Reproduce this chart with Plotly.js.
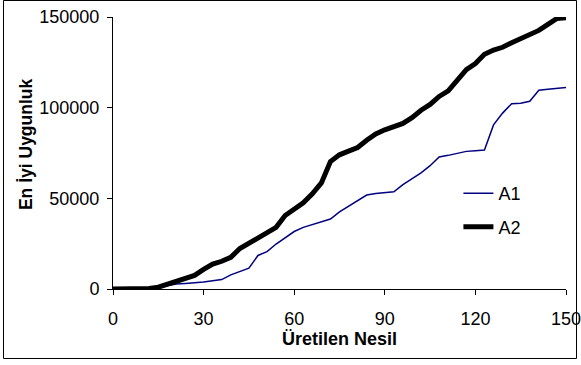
<!DOCTYPE html>
<html>
<head>
<meta charset="utf-8">
<script src="https://cdn.plot.ly/plotly-3.0.1.min.js"></script>
<style>html,body{margin:0;padding:0;background:#fff;}#chart{width:581px;height:365px;}</style>
</head>
<body>
<div id="chart"></div>
<script>
const generations = [0,3,6,9,12,15,18,21,24,27,30,33,36,39,42,45,48,51,54,57,60,63,66,69,72,75,78,81,84,87,90,93,96,99,102,105,108,111,114,117,120,123,126,129,132,135,138,141,144,147,150];
const a1Values = [0,0,0,0,300,1000,2000,2700,3000,3200,3800,4500,5200,7800,9500,11500,18500,20600,24800,28500,31700,34000,35400,36800,38600,42500,45600,48500,51800,52700,53300,53600,57600,61000,64000,68000,72800,73700,74800,75900,76300,76700,90500,97000,102200,102500,103500,109600,110200,110600,111100];
const a2Values = [0,0,0,0,300,1000,2500,4000,5500,7500,10800,13700,15300,17500,22300,25200,27400,30500,34000,40500,43800,47500,52500,58500,70300,74000,76000,78000,82000,85500,87800,89800,91300,94500,98600,101800,106200,109300,115000,121000,124300,129400,131800,133300,135800,138200,140700,142600,145900,149200,149600];
const seriesNames = ["A1","A2"];
const xTicks = [0,30,60,90,120,150];
const yTicks = [0,50000,100000,150000];
const xTitle = "Üretilen Nesil";
const yTitle = "En İyi Uygunluk";

const font = "Liberation Sans, Arial, sans-serif";
const traces = [
  {x: generations, y: a1Values, name: seriesNames[0], type: "scatter", mode: "lines",
   line: {color: "#000080", width: 1.5}, cliponaxis: false, legendgroup: "g1"},
  {x: generations, y: a2Values, name: seriesNames[1], type: "scatter", mode: "lines",
   line: {color: "#000000", width: 5}, cliponaxis: false, legendgroup: "g2"}
];
const layout = {
  width: 581, height: 365,
  margin: {l: 113, r: 15, t: 17, b: 76},
  paper_bgcolor: "#fff", plot_bgcolor: "#fff",
  font: {family: font, size: 18, color: "#000"},
  showlegend: true,
  legend: {x: 0.7625, y: 0.419, xanchor: "left", yanchor: "top", bgcolor: "rgba(0,0,0,0)",
           font: {family: font, size: 18, color: "#000"}, traceorder: "grouped", tracegroupgap: 7},
  xaxis: {range: [0, 150], tickvals: xTicks, ticktext: xTicks.map(String), showgrid: false, zeroline: false,
          showline: true, linecolor: "#000", linewidth: 1, ticks: "outside", ticklen: 5, tickcolor: "#000",
          ticklabelstandoff: 8, ticklabeloverflow: "allow", tickfont: {family: font, size: 18, color: "#000"}},
  yaxis: {range: [0, 150000], tickvals: yTicks, ticktext: yTicks.map(String), showgrid: false, zeroline: false,
          showline: true, linecolor: "#000", linewidth: 1, ticks: "outside", ticklen: 5, tickcolor: "#000",
          ticklabelstandoff: 4, tickfont: {family: font, size: 18, color: "#000"}},
  annotations: [
    {text: "<b>" + xTitle + "</b>", xref: "paper", yref: "paper", x: 0.501, y: -0.184, xanchor: "center", yanchor: "middle",
     showarrow: false, font: {family: font, size: 18, color: "#000"}},
    {text: "<b>" + yTitle + "</b>", xref: "paper", yref: "paper", x: -0.192, y: 0.533, xanchor: "center", yanchor: "middle",
     textangle: -90, showarrow: false, font: {family: font, size: 17.5, color: "#000"}}
  ],
  shapes: [
    {type: "rect", xref: "paper", yref: "paper", x0: -0.2417, x1: 1.0232, y0: -0.2555, y1: 1.0607,
     line: {color: "#000", width: 1}, fillcolor: "rgba(0,0,0,0)", layer: "below"}
  ]
};
Plotly.newPlot("chart", traces, layout, {displayModeBar: false, staticPlot: true});
</script>
</body>
</html>
